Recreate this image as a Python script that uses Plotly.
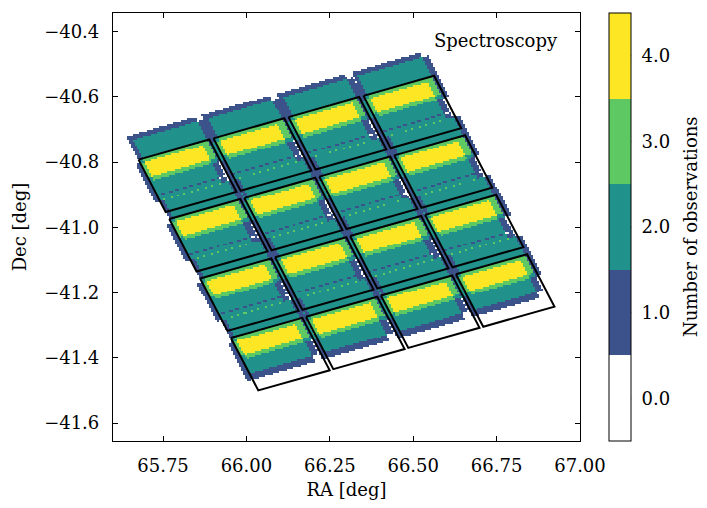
import numpy as np
import plotly.graph_objects as go

# Pointing centres of the 4 x 4 spectroscopic mosaic (deg)
pointing_ra = [65.8233, 66.0480, 66.2727, 66.4975,
               65.9160, 66.1408, 66.3655, 66.5902,
               66.0088, 66.2335, 66.4582, 66.6830,
               66.1015, 66.3263, 66.5510, 66.7757]
pointing_dec = [-40.8419, -40.7768, -40.7117, -40.6466,
                -41.0242, -40.9591, -40.8940, -40.8289,
                -41.2065, -41.1414, -41.0763, -41.0112,
                -41.3888, -41.3237, -41.2586, -41.1935]

field_size = 0.172        # deg, side of the nominal field
position_angle = 21.0     # deg

# Per-exposure coverage within a pointing, in units of the field side
# (u: across the field from its left edge, v: down the field from its top edge)
exp_u0 = [0.00, 0.06, -0.07, 0.00]
exp_u1 = [0.97, 1.06, 0.88, 0.97]
exp_v0 = [-0.444, -0.358, 0.068, 0.000]
exp_v1 = [0.341, 0.410, 0.786, 0.673]

count_levels = [0, 1, 2, 3, 4]
count_labels = ["0.0", "1.0", "2.0", "3.0", "4.0"]
level_colors = ["#ffffff", "#3b528b", "#21918c", "#5ec962", "#fde725"]

ra_ticks = [65.75, 66.00, 66.25, 66.50, 66.75, 67.00]
dec_ticks = [-41.6, -41.4, -41.2, -41.0, -40.8, -40.6, -40.4]

# Sky pixel grid for the coverage map
pix = 0.006
ra_cells = np.arange(65.60 + pix / 2, 67.00, pix)
dec_cells = np.arange(-41.655 + pix / 2, -40.343, pix)
RA, DEC = np.meshgrid(ra_cells, dec_cells)

th = np.radians(position_angle)
ct, st = np.cos(th), np.sin(th)

counts = np.zeros(RA.shape, dtype=int)
outline_x, outline_y = [], []
for ra_t, dec_t in zip(pointing_ra, pointing_dec):
    cd = np.cos(np.radians(dec_t))
    xi = (RA - ra_t) * cd
    eta = DEC - dec_t
    uf = (xi * ct + eta * st) / field_size + 0.5
    vf = (xi * st - eta * ct) / field_size + 0.5
    for u0, u1, v0, v1 in zip(exp_u0, exp_u1, exp_v0, exp_v1):
        counts += ((uf >= u0) & (uf < u1) & (vf >= v0) & (vf < v1)).astype(int)
    # field outline
    cu = (np.array([0, 1, 1, 0, 0]) - 0.5) * field_size
    cv = (np.array([0, 0, 1, 1, 0]) - 0.5) * field_size
    cxi = cu * ct + cv * st
    ceta = cu * st - cv * ct
    outline_x += list(ra_t + cxi / cd) + [None]
    outline_y += list(dec_t + ceta) + [None]

counts = np.clip(counts, 0, 4)

n = len(level_colors)
colorscale = []
for i, c in enumerate(level_colors):
    colorscale.append([i / n, c])
    colorscale.append([(i + 1) / n, c])

font_family = "DejaVu Serif"
fsize = 18
tfont = dict(family=font_family, size=fsize, color="black")

cb_x0 = 1.0625   # colour bar left edge, paper units
cb_w = 22        # px

fig = go.Figure()
fig.add_trace(go.Heatmap(
    x=ra_cells, y=dec_cells, z=counts,
    zmin=-0.5, zmax=4.5, colorscale=colorscale, zsmooth=False,
    hoverinfo="skip",
    colorbar=dict(
        x=cb_x0, xanchor="left", xpad=0, y=0.5, yanchor="middle", ypad=0,
        len=1.0, lenmode="fraction", thickness=cb_w,
        outlinecolor="black", outlinewidth=1,
        tickvals=count_levels, ticktext=count_labels,
        ticks="outside", ticklen=7, tickcolor="rgba(0,0,0,0)",
        tickfont=tfont,
    ),
))
fig.add_trace(go.Scatter(
    x=outline_x, y=outline_y, mode="lines",
    line=dict(color="black", width=2), hoverinfo="skip", showlegend=False,
))

axis_common = dict(
    showgrid=False, zeroline=False, showline=True, linecolor="black",
    linewidth=1.2, mirror="ticks", ticks="inside", ticklen=5,
    tickcolor="black", tickwidth=1, tickfont=tfont,
)
fig.update_xaxes(
    range=[65.60, 67.00], tickvals=ra_ticks,
    ticktext=[f"{t:.2f}" for t in ra_ticks],
    ticklabelstandoff=8,
    title=dict(text="RA [deg]", font=tfont, standoff=8),
    **axis_common,
)
fig.update_yaxes(
    range=[-41.655, -40.343], tickvals=dec_ticks,
    ticktext=[f"{t:.1f}".replace("-", "\u2212") for t in dec_ticks],
    ticklabelstandoff=9,
    title=dict(text="Dec [deg]", font=tfont, standoff=12),
    **axis_common,
)

# inward tick marks on the colour bar
plot_w = 707 - 113 - 127
cb_right = cb_x0 + cb_w / plot_w
shapes = []
for k in count_levels:
    yk = (k + 0.5) / 5
    shapes.append(dict(type="line", xref="paper", yref="paper",
                       x0=cb_right - 5 / plot_w, x1=cb_right, y0=yk, y1=yk,
                       line=dict(color="black", width=1)))

fig.add_annotation(
    text="Spectroscopy", xref="paper", yref="paper", x=0.957, y=0.935,
    xanchor="right", yanchor="middle", showarrow=False, font=tfont,
)
fig.add_annotation(
    text="Number of observations", xref="paper", yref="paper",
    x=(690 - 113) / plot_w, y=0.5, xanchor="center", yanchor="middle",
    textangle=-90, showarrow=False, font=tfont,
)

fig.update_layout(
    width=707, height=508,
    margin=dict(l=113, r=127, t=12, b=63),
    plot_bgcolor="white", paper_bgcolor="white",
    showlegend=False, shapes=shapes,
)

fig.write_html("out.html")
